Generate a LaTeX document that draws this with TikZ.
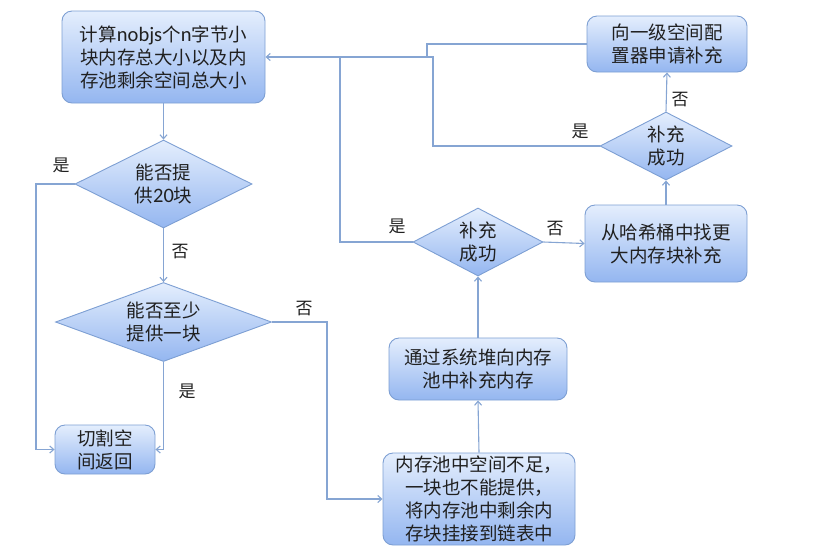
\documentclass[tikz,border=0pt]{standalone}
\usepackage{fontspec}
\setmainfont{Noto Sans CJK SC}
\newfontfamily\latf{Carlito}
\usetikzlibrary{shapes.geometric,arrows.meta}
\definecolor{ftop}{HTML}{E4EEFD}
\definecolor{fbot}{HTML}{94B6F0}
\definecolor{bord}{HTML}{7D9FD3}
\definecolor{conn}{HTML}{86A5D3}
\definecolor{txt}{HTML}{202020}
\begin{document}
\begin{tikzpicture}[x=1pt,y=-1pt,
  every node/.style={text=txt,font=\fontsize{18.5}{23}\selectfont},
  box/.style={draw=bord,line width=0.9pt,rounded corners=10pt,top color=ftop,bottom color=fbot,
    inner sep=0pt,align=center},
  dia/.style={draw=bord,line width=0.9pt,diamond,top color=ftop,bottom color=fbot,
    inner sep=0pt,align=center,aspect=2},
  conline/.style={draw=conn,line width=1.1pt},
  arr/.style={conline,-{Straight Barb[length=4pt,width=7pt]}},
  lab/.style={font=\fontsize{17}{20}\selectfont}]
\useasboundingbox (0,0) rectangle (820,558);
\node[box,minimum width=203pt,minimum height=92pt] (b1) at (163.5,57) {计算{\latf\fontsize{20.5}{23}\selectfont nobjs}个{\latf\fontsize{20.5}{23}\selectfont n}字节小\\块内存总大小以及内\\存池剩余空间总大小};
\node[dia,minimum width=177pt,minimum height=88pt] (d1) at (163.5,184) {能否提\\供{\latf\fontsize{20.5}{23}\selectfont 20}块};
\node[dia,aspect=2.7,minimum width=216pt,minimum height=79pt] (d2) at (163.5,322) {能否至少\\提供一块};
\node[box,minimum width=100pt,minimum height=49pt] (cut) at (105,449.5) {切割空\\间返回};
\node[box,minimum width=192pt,minimum height=92pt] (low) at (479,499) {内存池中空间不足，\\一块也不能提供，\\将内存池中剩余内\\存块挂接到链表中};
\node[box,minimum width=178pt,minimum height=62pt] (heap) at (478,369) {通过系统堆向内存\\池中补充内存};
\node[dia,aspect=1.9,minimum width=130pt,minimum height=68pt] (d3) at (478,242) {补充\\成功};
\node[box,minimum width=162pt,minimum height=77pt] (hash) at (666,243.5) {从哈希桶中找更\\大内存块补充};
\node[dia,aspect=1.9,minimum width=132pt,minimum height=68pt] (d4) at (666,146) {补充\\成功};
\node[box,minimum width=160pt,minimum height=56pt] (lvl1) at (667,44) {向一级空间配\\置器申请补充};
\coordinate (cl) at (36,184);
\coordinate (cr) at (327,322);
\coordinate (j1) at (433,57);
\coordinate (j2) at (427,57);
\coordinate (j3) at (340,57);
\draw[arr] (b1.south) -- (d1.north);
\draw[arr] (d1.west) -- (cl) |- (cut.west);
\draw[arr] (d1.south) -- (d2.north);
\draw[arr] (d2.south) |- (cut.east);
\draw[arr] (d2.east) -- (cr) |- (low.west);
\draw[arr] (low.north) -- (heap.south);
\draw[arr] (heap.north) -- (d3.south);
\draw[arr] (d3.east) -- (hash.west);
\draw[arr] (hash.north) -- (d4.south);
\draw[arr] (d4.north) -- (lvl1.south);
\draw[arr] (d4.west) -| (j1) -- (b1.east);
\draw[conline] (lvl1.west) -| (j2);
\draw[conline] (d3.west) -| (j3);
\node[lab] (l1) at (61,165) {是};
\node[lab] (l2) at (180,252) {否};
\node[lab] (l3) at (187,391) {是};
\node[lab] (l4) at (304,309) {否};
\node[lab] (l5) at (397,226) {是};
\node[lab] (l6) at (555,229) {否};
\node[lab] (l7) at (580,131) {是};
\node[lab] (l8) at (680,100) {否};
\end{tikzpicture}
\end{document}
